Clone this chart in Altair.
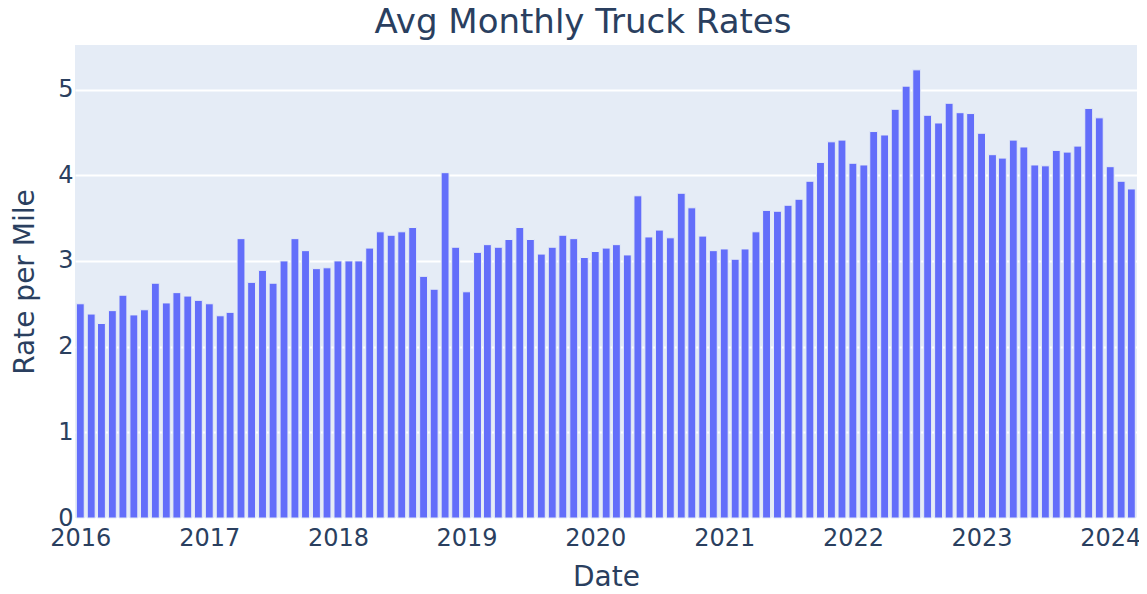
import altair as alt
import pandas as pd

# Monthly dates (first of month), Jan 2016 .. Mar 2024
months = pd.date_range("2016-01-01", "2024-03-01", freq="MS").strftime("%Y-%m-%d").tolist()

rates = [
    # 2016
    2.50, 2.38, 2.27, 2.42, 2.60, 2.37, 2.43, 2.74, 2.51, 2.63, 2.59, 2.54,
    # 2017
    2.50, 2.36, 2.40, 3.26, 2.75, 2.89, 2.74, 3.00, 3.26, 3.12, 2.91, 2.92,
    # 2018
    3.00, 3.00, 3.00, 3.15, 3.34, 3.30, 3.34, 3.39, 2.82, 2.67, 4.03, 3.16,
    # 2019
    2.64, 3.10, 3.19, 3.16, 3.25, 3.39, 3.25, 3.08, 3.16, 3.30, 3.26, 3.04,
    # 2020
    3.11, 3.15, 3.19, 3.07, 3.76, 3.28, 3.36, 3.27, 3.79, 3.62, 3.29, 3.12,
    # 2021
    3.14, 3.02, 3.14, 3.34, 3.59, 3.58, 3.65, 3.72, 3.93, 4.15, 4.39, 4.41,
    # 2022
    4.14, 4.12, 4.51, 4.47, 4.77, 5.04, 5.23, 4.70, 4.61, 4.84, 4.73, 4.72,
    # 2023
    4.49, 4.24, 4.20, 4.41, 4.33, 4.12, 4.11, 4.29, 4.27, 4.34, 4.78, 4.67,
    # 2024
    4.10, 3.93, 3.84,
]

year_ticks = list(range(2016, 2025))
y_ticks = [0, 1, 2, 3, 4, 5]

df = pd.DataFrame({"date": months, "rate": rates})

TEXT = "#2a3f5f"
FONT = "DejaVu Sans"
DAY = 86400000

x_axis = alt.Axis(
    values=[alt.DateTime(year=y, month=1, date=1, utc=True) for y in year_ticks],
    format="%Y",
    formatType="utc",
    grid=False,
    domain=False,
    ticks=False,
    tickSize=0,
    labelFont=FONT,
    labelFontSize=24,
    labelColor=TEXT,
    labelBaseline="alphabetic",
    labelPadding=27,
    labelFlush=False,
    labelOverlap=False,
    title="Date",
    titleFont=FONT,
    titleFontSize=28,
    titleFontWeight="normal",
    titleColor=TEXT,
    titleBaseline="alphabetic",
    titleY=67,
)

y_axis = alt.Axis(
    values=y_ticks,
    grid=True,
    gridColor="white",
    gridWidth=2,
    domain=False,
    ticks=False,
    tickSize=0,
    labelFont=FONT,
    labelFontSize=24,
    labelColor=TEXT,
    labelPadding=2,
    labelFlush=False,
    labelOverlap=False,
    title="Rate per Mile",
    titleFont=FONT,
    titleFontSize=28,
    titleFontWeight="normal",
    titleColor=TEXT,
    titleBaseline="alphabetic",
    titleAngle=-90,
    titleX=-42,
)

chart = (
    alt.Chart(df)
    .transform_calculate(
        start=f"toDate(datum.date) - 11.2 * {DAY}",
        end=f"toDate(datum.date) + 11.2 * {DAY}",
    )
    .mark_bar(color="#636efa", stroke="#e5ecf6", strokeWidth=1)
    .encode(
        x=alt.X(
            "start:T",
            axis=x_axis,
            scale=alt.Scale(
                type="utc",
                domain=[
                    alt.DateTime(year=2015, month=12, date=17, utc=True),
                    alt.DateTime(year=2024, month=3, date=17, utc=True),
                ],
            ),
        ),
        x2="end:T",
        y=alt.Y("rate:Q", axis=y_axis, scale=alt.Scale(domain=[0, 5.52], nice=False, zero=True)),
        y2=alt.datum(0),
    )
    .properties(
        width=1062,
        height=473,
        title=alt.TitleParams(
            "Avg Monthly Truck Rates",
            font=FONT,
            fontSize=34,
            fontWeight="normal",
            color=TEXT,
            anchor="middle",
            baseline="alphabetic",
            offset=12,
            dx=-23,
            dy=34,
        ),
        autosize=alt.AutoSizeParams(type="none"),
        padding={"left": 67, "top": 37, "right": 2, "bottom": 68},
        background="white",
    )
    .configure_view(fill="#e5ecf6", stroke=None, strokeWidth=0)
)

chart.save("out.html", embed_options={"renderer": "svg", "actions": False})
